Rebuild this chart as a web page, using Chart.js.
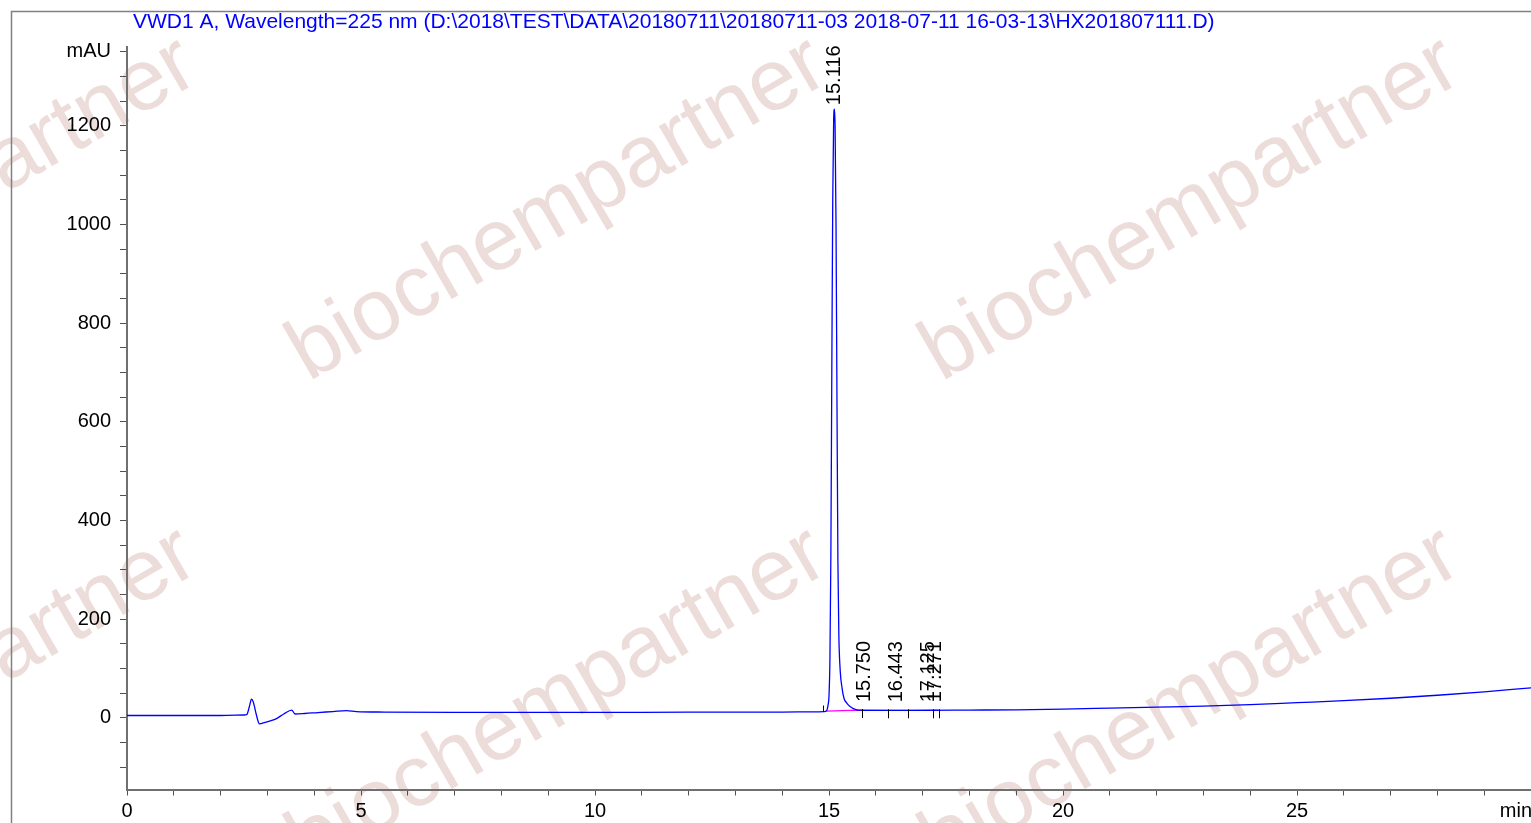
<!doctype html>
<html lang="en">
<head>
	<meta charset="utf-8">
	<script src="https://cdn.jsdelivr.net/npm/chart.js"></script>
	<style>
		html, body { margin: 0; padding: 0; background: #fff; overflow: hidden; }
		.chart-box { width: 1531px; height: 823px; position: relative; }
	</style>
</head>
<body>
	<div class="chart-box">
		<canvas id="chrom-chart"></canvas>
	</div>

<script>
	/*======================= data =========================*/
	var titleText = 'VWD1 A, Wavelength=225 nm (D:\\2018\\TEST\\DATA\\20180711\\20180711-03 2018-07-11 16-03-13\\HX201807111.D)';

	// retention time (min)
	var times = [
		0, 1, 2, 2.5, 2.56, 2.62, 2.66, 2.70, 2.76, 2.83, 2.95, 3.16, 3.35, 3.52, 3.59, 3.8, 4.08, 4.4, 4.69, 4.9,
		5.5, 7, 9, 11, 13, 14, 14.6, 14.9, 14.94, 14.96, 14.98, 15.00, 15.02, 15.04, 15.06, 15.08, 15.10, 15.116,
		15.13, 15.15, 15.17, 15.19, 15.21, 15.24, 15.28, 15.32, 15.38, 15.45, 15.52, 15.62, 16, 17, 18, 19,
		20, 21, 22, 23, 24, 25, 26, 27, 28, 29, 30
	];
	// signal (mAU)
	var signal = [
		5, 5, 5, 6, 7, 25, 38, 32, 8, -12, -9, -3, 8, 16, 8, 9, 11, 13, 15, 13,
		12, 11.5, 11.5, 11.5, 12, 12, 12.5, 13, 14, 17, 26, 45, 120, 330, 700, 1050, 1215, 1234,
		1200, 1000, 650, 320, 170, 95, 60, 40, 30, 23, 19, 16, 15.5, 15.5, 16, 16.5,
		18, 20, 22, 24, 27, 31, 35, 40, 46, 53, 61
	];

	// integration baseline (magenta)
	var baseTimes = [14.94, 15.62, 16.27, 16.69, 17.22, 17.34];
	var baseValues = [14, 16, 15.5, 15.5, 15.6, 15.6];

	// peak labels
	var peakTimes = [15.116, 15.750, 16.443, 17.125, 17.271];
	var peakLabels = ['15.116', '15.750', '16.443', '17.125', '17.271'];
	var peakValues = [1234, 16, 15.5, 15.5, 15.5];

	// integration event ticks
	var eventTimes = [14.865, 15.71, 16.27, 16.69, 17.22, 17.34];
	var eventValues = [13, 16, 15.5, 15.5, 15.6, 15.6];

	// axes
	var xMin = 0, xMax = 30;
	var yMin = -145, yMax = 1360;
	var yLabelTicks = [0, 200, 400, 600, 800, 1000, 1200];
	var yUnitTick = 1350;
	var xLabelTicks = [0, 5, 10, 15, 20, 25];

	var FONT = "'Liberation Sans', Arial, sans-serif";

	/*======================= plugins =========================*/
	var watermark = {
		id: 'watermark',
		beforeDraw: function(chart) {
			var ctx = chart.ctx;
			var cols = [-72, 558, 1191];
			var rows = [210, 700];
			ctx.save();
			ctx.fillStyle = '#fff';
			ctx.fillRect(0, 0, chart.width, chart.height);
			ctx.fillStyle = '#ecdcda';
			ctx.font = '87px ' + FONT;
			ctx.textAlign = 'center';
			ctx.textBaseline = 'middle';
			rows.forEach(function(ry) {
				cols.forEach(function(cx) {
					ctx.save();
					ctx.translate(cx, ry);
					ctx.rotate(-30 * Math.PI / 180);
					ctx.fillText('biochempartner', 0, 0);
					ctx.restore();
				});
			});
			// outer frame
			ctx.strokeStyle = '#808080';
			ctx.lineWidth = 1.5;
			ctx.beginPath();
			ctx.moveTo(11.5, chart.height + 5);
			ctx.lineTo(11.5, 11.5);
			ctx.lineTo(chart.width + 5, 11.5);
			ctx.stroke();
			// title
			ctx.fillStyle = '#0000ff';
			ctx.font = '21px ' + FONT;
			ctx.textAlign = 'left';
			ctx.textBaseline = 'middle';
			ctx.fillText(titleText, 133, 22);
			ctx.restore();
		}
	};

	var peakMarks = {
		id: 'peakMarks',
		afterDatasetsDraw: function(chart) {
			var ctx = chart.ctx;
			var xs = chart.scales.x, ys = chart.scales.y;
			ctx.save();
			ctx.strokeStyle = '#000';
			ctx.lineWidth = 1;
			eventTimes.forEach(function(t, i) {
				var px = Math.round(xs.getPixelForValue(t)) + 0.5;
				var py = ys.getPixelForValue(eventValues[i]);
				ctx.beginPath();
				if (i === 0) {
					ctx.moveTo(px, py - 6);
					ctx.lineTo(px, py);
				} else {
					ctx.moveTo(px, py - 1);
					ctx.lineTo(px, py + 8);
				}
				ctx.stroke();
			});
			ctx.fillStyle = '#000';
			ctx.font = '20px ' + FONT;
			ctx.textAlign = 'left';
			ctx.textBaseline = 'middle';
			peakTimes.forEach(function(t, i) {
				var px = xs.getPixelForValue(t);
				var py = ys.getPixelForValue(peakValues[i]) - (i === 0 ? 4 : 8);
				ctx.save();
				ctx.translate(px, py);
				ctx.rotate(-Math.PI / 2);
				ctx.fillText(peakLabels[i], 0, 0);
				ctx.restore();
			});
			// axis unit on x
			ctx.textAlign = 'right';
			ctx.textBaseline = 'top';
			ctx.fillText('min', xs.right + 1, xs.top + 12);
			ctx.restore();
		}
	};

	/*======================= chart =========================*/
	var chromData = times.map(function(t, i) { return {x: t, y: signal[i]}; });
	var baseData = baseTimes.map(function(t, i) { return {x: t, y: baseValues[i]}; });

	var ctx = document.getElementById('chrom-chart').getContext('2d');
	var chromChart = new Chart(ctx, {
		type: 'line',
		data: {
			datasets: [{
				label: 'VWD1 A',
				data: chromData,
				borderColor: '#0000ff',
				borderWidth: 1.3,
				pointRadius: 0,
				fill: false,
				cubicInterpolationMode: 'monotone'
			}, {
				label: 'baseline',
				data: baseData,
				borderColor: '#ff00ff',
				borderWidth: 1.3,
				pointRadius: 0,
				fill: false
			}]
		},
		plugins: [watermark, peakMarks],
		options: {
			responsive: true,
			maintainAspectRatio: false,
			animation: false,
			layout: {padding: {top: 47, left: 0, right: 0, bottom: 0}},
			plugins: {
				legend: {display: false},
				tooltip: {enabled: false},
				title: {display: false}
			},
			scales: {
				x: {
					type: 'linear',
					min: xMin,
					max: xMax,
					afterFit: function(scale) {
						scale.height = 33.5;
						scale.paddingRight = 0;
					},
					border: {color: '#707070', width: 2},
					grid: {drawOnChartArea: false, drawTicks: true, tickLength: 6, color: '#505050'},
					ticks: {
						stepSize: 1,
						autoSkip: false,
						maxRotation: 0,
						padding: 4,
						color: '#000',
						font: {family: FONT, size: 20},
						callback: function(v) { return xLabelTicks.indexOf(v) >= 0 ? String(v) : ''; }
					}
				},
				y: {
					type: 'linear',
					min: yMin,
					max: yMax,
					afterFit: function(scale) { scale.width = 127; },
					afterBuildTicks: function(scale) {
						var t = [];
						for (var v = -100; v <= yUnitTick; v += 50) t.push({value: v});
						scale.ticks = t;
					},
					border: {color: '#707070', width: 2},
					grid: {drawOnChartArea: false, drawTicks: true, tickLength: 7, color: '#505050'},
					ticks: {
						autoSkip: false,
						padding: 9,
						color: '#000',
						font: {family: FONT, size: 20},
						callback: function(v) {
							if (v === yUnitTick) return 'mAU';
							return yLabelTicks.indexOf(v) >= 0 ? String(v) : '';
						}
					}
				}
			}
		}
	});
</script>
</body>
</html>
